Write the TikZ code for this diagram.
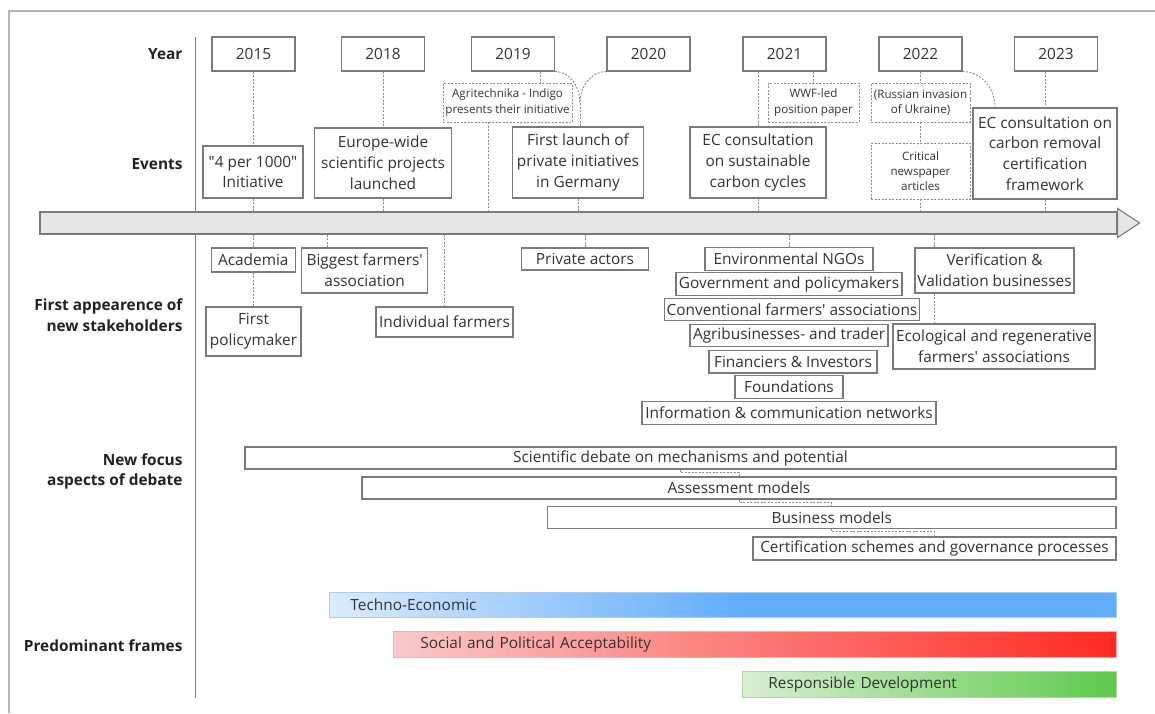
\documentclass[tikz,border=0pt]{standalone}
\usepackage{fontspec}
\setmainfont{Open Sans}[Ligatures=TeXOff]
\usetikzlibrary{calc}

\definecolor{ink}{HTML}{333333}
\definecolor{labelink}{HTML}{222222}
\definecolor{edge}{HTML}{7A7A7A}
\definecolor{guide}{HTML}{8C8C8C}
\definecolor{outerline}{HTML}{B4B4B4}
\definecolor{barfill}{HTML}{E6E6E6}
\definecolor{teL}{HTML}{DCEBFD}
\definecolor{teR}{HTML}{62ADFB}
\definecolor{teB}{HTML}{A8CBF2}
\definecolor{spL}{HTML}{F9C8C8}
\definecolor{spR}{HTML}{FF2A22}
\definecolor{spB}{HTML}{F2B0B0}
\definecolor{rdL}{HTML}{D8EED3}
\definecolor{rdR}{HTML}{5DCB4A}
\definecolor{rdB}{HTML}{A9DA9E}

\pgfdeclarehorizontalshading{technoshade}{100bp}{color(0bp)=(teL); color(25bp)=(teL); color(51bp)=(teR); color(100bp)=(teR)}
\pgfdeclarehorizontalshading{socialshade}{100bp}{color(0bp)=(spL); color(25bp)=(spL); color(75bp)=(spR); color(100bp)=(spR)}
\pgfdeclarehorizontalshading{respshade}{100bp}{color(0bp)=(rdL); color(25bp)=(rdL); color(75bp)=(rdR); color(100bp)=(rdR)}

\newcommand\fsbig{\fontsize{15.4}{20.8}\selectfont}
\newcommand\fssmall{\fontsize{11.6}{15.3}\selectfont}

\tikzset{
  box/.style={draw=edge, line width=1.1pt, text=ink, fill=white, inner xsep=2pt,
    inner ysep=0pt, align=center, font=\fsbig},
  notebox/.style={draw=guide, line width=0.9pt, dash pattern=on 2pt off 1.5pt,
    text=ink, inner xsep=2pt, inner ysep=0pt, align=center, font=\fssmall},
  guideline/.style={draw=guide, line width=0.9pt, dash pattern=on 2pt off 1.5pt},
  rowlabel/.style={font=\fsbig\bfseries, text=labelink, anchor=east, align=right},
  timeline/.style={draw=edge, line width=1.1pt, fill=barfill},
  framebar/.style={line width=0.9pt, text=ink, font=\fsbig, inner xsep=0pt,
    inner ysep=0pt, anchor=west, align=left},
}

\begin{document}
\begin{tikzpicture}[x=1pt, y=-1pt]
\useasboundingbox (0,0) rectangle (1155,713);
\fill[white] (0,0) rectangle (1155,713);

% outer frame and column divider
\draw[outerline, line width=1.6pt] (9,713) -- (9,11) -- (1155,11);
\coordinate (divtop) at (195.5,37);
\coordinate (divbot) at (195.5,698);
\draw[edge, line width=1.1pt] (divtop) -- (divbot);

% row labels
\node[rowlabel] (lyear) at (186,54) {Year};
\node[rowlabel] (levents) at (186,164) {Events};
\node[rowlabel] (lstake) at (186,315.5) {First appearence of\\new stakeholders};
\node[rowlabel] (lfocus) at (186,471.5) {New focus\\aspects of debate};
\node[rowlabel] (lframes) at (186,646) {Predominant frames};

% years
\foreach \yr/\cx in {2015/253.5, 2018/383, 2019/513, 2020/648.5, 2021/784.5, 2022/920.5, 2023/1056}
  \node[box, minimum width=83pt, minimum height=34pt] (y\yr) at (\cx,54) {\yr};

% timeline arrow
\node[timeline, minimum width=1077pt, minimum height=22pt, inner sep=0pt] (bar) at (578.5,223) {};
\draw[timeline] ($(bar.north east)+(0,-3)$) -- ($(bar.east)+(22,0)$) -- ($(bar.south east)+(0,3)$) -- cycle;

% events
\node[box, minimum width=100pt, minimum height=52pt] (e2015) at (253,172) {"4 per 1000"\\Initiative};
\node[box, minimum width=137pt, minimum height=70pt] (e2018) at (383,163) {Europe-wide\\scientific projects\\launched};
\node[notebox, minimum width=129pt, minimum height=39pt] (agri) at (507.5,102.5) {Agritechnika - Indigo\\presents their initiative};
\node[box, minimum width=131pt, minimum height=71pt] (launch) at (578,162.5) {First launch of\\private initiatives\\in Germany};
\node[box, minimum width=136pt, minimum height=71pt] (ecscc) at (758,162.5) {EC consultation\\on sustainable\\carbon cycles};
\node[notebox, minimum width=91pt, minimum height=39pt] (wwf) at (813.5,102.5) {WWF-led\\position paper};
\node[notebox, minimum width=99pt, minimum height=39pt] (russia) at (920.5,102.5) {(Russian invasion\\of Ukraine)};
\node[notebox, minimum width=99pt, minimum height=56pt] (critical) at (920.5,171) {Critical\\newspaper\\articles};
\node[box, minimum width=144pt, minimum height=91pt] (removal) at (1045,153.5) {EC consultation on\\carbon removal\\certification\\framework};

% year-to-event guides
\coordinate (xagriA) at (540,0);
\coordinate (xagriB) at (488,0);
\coordinate (merge) at (580,103);
\coordinate (xwwf) at (813,0);
\coordinate (xremA) at (995,0);
\draw[guideline] (y2015.south) -- (y2015.south |- e2015.north);
\draw[guideline] (y2018.south) -- (y2018.south |- e2018.north);
\draw[guideline] (xagriA |- y2019.south) -- (xagriA |- agri.north);
\draw[guideline] (y2019.south east) to[out=0, in=90] (merge);
\draw[guideline] (y2020.south west) to[out=180, in=90] (merge);
\draw[guideline] (merge) -- (merge |- launch.north);
\draw[guideline] (ecscc.north |- y2021.south) -- (ecscc.north);
\draw[guideline] (xwwf |- y2021.south) -- (xwwf |- wwf.north);
\draw[guideline] (y2022.south) -- (y2022.south |- russia.north);
\draw[guideline] (russia.south) -- (critical.north);
\draw[guideline] (y2022.south east) to[out=0, in=90] (xremA |- removal.north);
\draw[guideline] (removal.north |- y2023.south) -- (removal.north);

% event-to-timeline guides
\draw[guideline] (e2015.south) -- (e2015.south |- bar.north);
\draw[guideline] (e2018.south) -- (e2018.south |- bar.north);
\draw[guideline] (xagriB |- agri.south) -- (xagriB |- bar.north);
\draw[guideline] (launch.south) -- (launch.south |- bar.north);
\draw[guideline] (ecscc.south) -- (ecscc.south |- bar.north);
\draw[guideline] (critical.south) -- (critical.south |- bar.north);
\draw[guideline] (removal.south) -- (removal.south |- bar.north);

% stakeholders
\node[box, minimum width=84pt, minimum height=24pt] (academia) at (253.3,260) {Academia};
\node[box, minimum width=126pt, minimum height=45pt] (biggest) at (364.7,270.5) {Biggest farmers'\\association};
\node[box, minimum width=95pt, minimum height=49pt] (policymaker) at (253.5,331.5) {First\\policymaker};
\node[box, minimum width=137pt, minimum height=30pt] (individual) at (444.5,322) {Individual farmers};
\node[box, minimum width=127pt, minimum height=22pt] (private) at (585,259) {Private actors};
\node[box, minimum width=168pt, minimum height=22.5pt] (ngos) at (789,259) {Environmental NGOs};
\node[box, minimum width=226pt, minimum height=22.5pt] (gov) at (789,284) {Government and policymakers};
\node[box, minimum width=254pt, minimum height=22.5pt] (conv) at (792,309.5) {Conventional farmers' associations};
\node[box, minimum width=198pt, minimum height=22.5pt] (agribiz) at (789,335.5) {Agribusinesses- and trader};
\node[box, minimum width=168pt, minimum height=22.5pt] (fin) at (793,361.7) {Financiers \& Investors};
\node[box, minimum width=108pt, minimum height=22.5pt] (found) at (789,387) {Foundations};
\node[box, minimum width=294pt, minimum height=22.5pt] (info) at (789,413) {Information \& communication networks};
\node[box, minimum width=159pt, minimum height=45pt] (verif) at (994.5,270.5) {Verification \&\\Validation businesses};
\node[box, minimum width=202pt, minimum height=45pt] (eco) at (994,346.5) {Ecological and regenerative\\farmers' associations};

% timeline-to-stakeholder guides
\coordinate (xbig) at (327,0);
\coordinate (xind) at (444,0);
\coordinate (xver) at (934,0);
\draw[guideline] (academia.north |- bar.south) -- (academia.north);
\draw[guideline] (academia.south) -- (academia.south |- policymaker.north);
\draw[guideline] (xbig |- bar.south) -- (xbig |- biggest.north);
\draw[guideline] (xind |- bar.south) -- (xind |- individual.north);
\draw[guideline] (private.north |- bar.south) -- (private.north);
\draw[guideline] (ngos.north |- bar.south) -- (ngos.north);
\draw[guideline] (xver |- bar.south) -- (xver |- verif.north);
\draw[guideline] (xver |- verif.south) -- (xver |- eco.north);

% focus aspects of the debate
\node[box, minimum width=871pt, minimum height=22pt] (sci) at (680.5,458) {Scientific debate on mechanisms and potential};
\node[box, minimum width=754pt, minimum height=22pt] (assess) at (739,488) {Assessment models};
\node[box, minimum width=568.5pt, minimum height=21.5pt] (business) at (831.75,517.5) {Business models};
\node[box, minimum width=363pt, minimum height=23pt] (cert) at (934.5,548.5) {Certification schemes and governance processes};
\draw[guideline] (sci.south) -- ++(0,3) -| (assess.north);
\draw[guideline] (assess.south) -- ++(0,3) -| (business.north);
\draw[guideline] (business.south) -- ++(0,3) -| (cert.north);

% predominant frames
\node[framebar, shade, shading=technoshade, draw=teB, minimum width=787pt, minimum height=25pt,
  text width=787pt, inner xsep=0pt] (techno) at (329,604.5) {\hspace*{21pt}Techno-Economic};
\node[framebar, shade, shading=socialshade, draw=spB, minimum width=723pt, minimum height=26pt,
  text width=723pt] (social) at (393,644) {\hspace*{27pt}Social and Political Acceptability};
\node[framebar, shade, shading=respshade, draw=rdB, minimum width=374pt, minimum height=26pt,
  text width=374pt] (resp) at (742,684) {\hspace*{26pt}Responsible Development};
\end{tikzpicture}
\end{document}
